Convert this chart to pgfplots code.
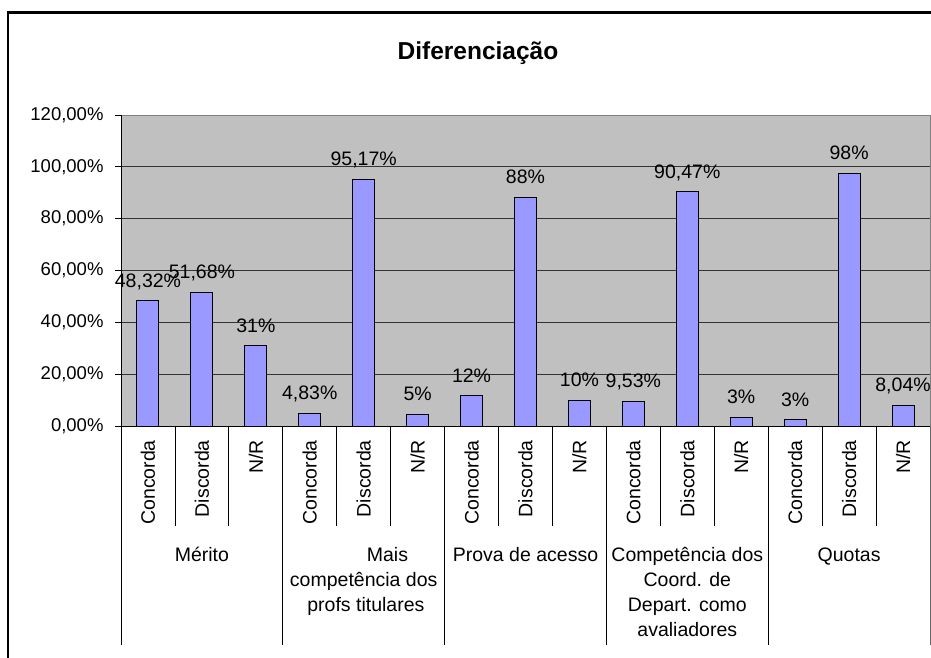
\documentclass[border=0pt]{standalone}
\usepackage{fontspec}
\setmainfont{Liberation Sans}
\usepackage{pgfplots}
\pgfplotsset{compat=1.18}
\definecolor{barfill}{HTML}{9999FF}
\definecolor{plotbg}{HTML}{C0C0C0}
\newcommand{\lab}{\fontsize{19.5}{24}\selectfont}

\begin{document}
\begin{tikzpicture}[x=1pt,y=1pt]
\useasboundingbox (0,0) rectangle (931,657);
% outer chart frame
\draw[line width=2.6pt] (8,-5) -- (8,644.5) -- (940,644.5);
\node[font=\fontsize{24.5}{28}\selectfont\bfseries, anchor=base] at (478,597) {Diferenciação};

\begin{axis}[
    at={(121pt,231pt)}, anchor=south west,
    width=809pt, height=311pt, scale only axis,
    xmin=-0.5, xmax=14.5,
    ymin=0, ymax=120,
    ytick={0,20,40,60,80,100,120},
    yticklabel={\pgfmathprintnumber[fixed,fixed zerofill,precision=2,use comma]{\tick}\%},
    /pgf/number format/assume math mode=true,
    xtick={0,...,14},
    xticklabels={Concorda,Discorda,N/R,Concorda,Discorda,N/R,Concorda,Discorda,N/R,Concorda,Discorda,N/R,Concorda,Discorda,N/R},
    xticklabel style={rotate=90, anchor=east, inner sep=0pt, font=\lab},
    xticklabel shift=8pt,
    yticklabel style={font=\fontsize{18.5}{22}\selectfont, xshift=-8pt},
    tick align=outside, major tick length=6pt,
    xtick style={draw=none},
    ytick style={black, line width=0.8pt},
    xtick pos=bottom, ytick pos=left,
    ymajorgrids=true,
    major grid style={black!80, line width=0.8pt},
    axis line style={draw=none},
    axis background/.style={fill=plotbg},
    clip=false,
]
\addplot[ybar, bar width=22pt, fill=barfill, draw=black, line width=1pt,
    nodes near coords, point meta=explicit symbolic,
    every node near coord/.append style={font=\lab, anchor=base, yshift=13.5pt, black}]
coordinates {
    (0,48.32)[{48,32\%}] (1,51.68)[{51,68\%}] (2,31)[{31\%}]
    (3,4.83)[{4,83\%}] (4,95.17)[{95,17\%}] (5,4.6)[{5\%}]
    (6,11.6)[{12\%}] (7,88.2)[{88\%}] (8,10)[{10\%}]
    (9,9.53)[{9,53\%}] (10,90.47)[{90,47\%}] (11,3.4)[{3\%}]
    (12,2.5)[{3\%}] (13,97.5)[{98\%}] (14,8.04)[{8,04\%}]
};
% plot area border
\draw[black!50, line width=1pt] (rel axis cs:0,1) -- (rel axis cs:1,1) -- (rel axis cs:1,0);
\draw[black, line width=1pt] (rel axis cs:0,1) -- (rel axis cs:0,0) -- ([xshift=-6pt]rel axis cs:0,0);
\draw[black, line width=1pt] (rel axis cs:0,0) -- (rel axis cs:1,0);
% category separators
\pgfplotsinvokeforeach{0.5,1.5,3.5,4.5,6.5,7.5,9.5,10.5,12.5,13.5}{
    \draw[black, line width=0.8pt] (axis cs:#1,0) -- ([yshift=-100pt]axis cs:#1,0);
}
\pgfplotsinvokeforeach{-0.5,2.5,5.5,8.5,11.5}{
    \draw[black, line width=0.8pt] (axis cs:#1,0) -- ([yshift=-219pt]axis cs:#1,0);
}
\draw[black!60, line width=0.8pt] (axis cs:14.5,0) -- ([yshift=-219pt]axis cs:14.5,0);
% group labels
\node[font=\lab, anchor=base] at ([yshift=-135pt]axis cs:1,0) {Mérito};
\node[font=\lab, anchor=base] at ([yshift=-135pt]axis cs:4.44,0) {Mais};
\node[font=\lab, anchor=base] at ([yshift=-160.3pt]axis cs:4,0) {competência dos};
\node[font=\lab, anchor=base] at ([yshift=-185.6pt]axis cs:4.04,0) {profs titulares};
\node[font=\lab, anchor=base] at ([yshift=-135pt]axis cs:7,0) {Prova de acesso};
\node[font=\lab, anchor=base] at ([yshift=-135pt]axis cs:10,0) {Competência dos};
\node[font=\lab, anchor=base] at ([yshift=-160.3pt]axis cs:10,0) {Coord. de};
\node[font=\lab, anchor=base] at ([yshift=-185.6pt]axis cs:10,0) {Depart. como};
\node[font=\lab, anchor=base] at ([yshift=-210.9pt]axis cs:10,0) {avaliadores};
\node[font=\lab, anchor=base] at ([yshift=-135pt]axis cs:13,0) {Quotas};
\end{axis}
\end{tikzpicture}
\end{document}
